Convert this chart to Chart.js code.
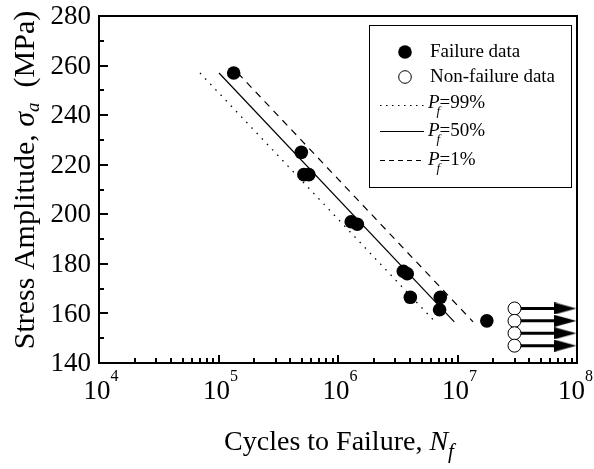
<!DOCTYPE html>
<html>
<head>
<meta charset="utf-8">
<script src="https://cdn.jsdelivr.net/npm/chart.js@4.4.1/dist/chart.umd.min.js"></script>
<style>
  html, body { margin: 0; padding: 0; background: #fff; }
  #c { display: block; }
</style>
</head>
<body>
<canvas id="c" width="594" height="469"></canvas>
<script>
// ---- data ----
const failN = [1.34e5, 4.93e5, 5.18e5, 5.7e5, 1.29e6, 1.45e6, 3.52e6, 3.8e6, 4.03e6, 7.18e6, 7.08e6, 1.76e7];
const failS = [257, 225, 216, 216, 197, 196, 177, 176, 166.5, 166.5, 161.5, 157];
const runoutN = [3e7, 3e7, 3e7, 3e7];
const runoutS = [162, 157, 152, 147];
const runoutArrowN = 8e7;
const p99N = [7.0e4, 6.5e6];
const p50N = [1.01e5, 9.4e6];
const p1N = [1.45e5, 1.35e7];
const curveS = [257, 156.6];
const xTickExp = [4, 5, 6, 7, 8];
const yTicks = [140, 160, 180, 200, 220, 240, 260, 280];
const yMinor = [150, 170, 190, 210, 230, 250, 270];
const legendLabels = ['Failure data', 'Non-failure data', '=99%', '=50%', '=1%'];

const SERIF = '"Liberation Serif", "Times New Roman", serif';

// arrowhead glyph
const arrowHead = document.createElement('canvas');
arrowHead.width = 22; arrowHead.height = 12;
(function(){
  const g = arrowHead.getContext('2d');
  g.fillStyle = '#000';
  g.beginPath(); g.moveTo(0, 0); g.lineTo(22, 6); g.lineTo(0, 12); g.closePath(); g.fill();
})();

const pts = (xs, ys) => xs.map((x, i) => ({x: x, y: ys[i]}));

const datasets = [];
datasets.push({
  label: 'Failure data', data: pts(failN, failS), showLine: false,
  pointRadius: 6.8, pointBackgroundColor: '#000', pointBorderColor: '#000', pointBorderWidth: 0
});
datasets.push({
  label: 'Non-failure data', data: pts(runoutN, runoutS), showLine: false,
  pointRadius: 6.5, pointBackgroundColor: '#fff', pointBorderColor: '#000', pointBorderWidth: 1
});
runoutS.forEach((s, i) => {
  datasets.push({
    label: 'arrow' + i, data: [{x: runoutN[i], y: s}, {x: runoutArrowN, y: s}],
    showLine: true, borderColor: '#000', borderWidth: 3,
    pointRadius: [0, 6], pointStyle: arrowHead, pointBorderWidth: 0
  });
});
datasets.push({
  label: 'Pf=99%', data: pts(p99N, curveS), showLine: true, borderColor: '#000',
  borderWidth: 1.3, borderDash: [1.5, 6], pointRadius: 0
});
datasets.push({
  label: 'Pf=50%', data: pts(p50N, curveS), showLine: true, borderColor: '#000',
  borderWidth: 1.2, pointRadius: 0
});
datasets.push({
  label: 'Pf=1%', data: pts(p1N, curveS), showLine: true, borderColor: '#000',
  borderWidth: 1.2, borderDash: [7, 6], pointRadius: 0
});

const decor = {
  id: 'decor',
  beforeDraw(chart) {
    const ctx = chart.ctx;
    ctx.save();
    ctx.fillStyle = '#fff';
    ctx.fillRect(0, 0, chart.width, chart.height);
    ctx.restore();
  },
  afterDraw(chart) {
    const ctx = chart.ctx;
    const a = chart.chartArea;
    const xs = chart.scales.x, ys = chart.scales.y;
    ctx.save();
    ctx.strokeStyle = '#000';
    ctx.fillStyle = '#000';
    // frame
    ctx.lineWidth = 2;
    ctx.strokeRect(a.left, a.top, a.right - a.left, a.bottom - a.top);
    // y ticks
    ctx.lineWidth = 2;
    ctx.beginPath();
    yTicks.forEach(v => { const y = Math.round(ys.getPixelForValue(v)); ctx.moveTo(a.left, y); ctx.lineTo(a.left + 9, y); });
    yMinor.forEach(v => { const y = Math.round(ys.getPixelForValue(v)); ctx.moveTo(a.left, y); ctx.lineTo(a.left + 5, y); });
    // x ticks
    xTickExp.forEach((e, k) => {
      const x = Math.round(xs.getPixelForValue(Math.pow(10, e)));
      ctx.moveTo(x, a.bottom); ctx.lineTo(x, a.bottom - 8);
      if (k < xTickExp.length - 1) {
        for (let m = 2; m <= 9; m++) {
          const xm = Math.round(xs.getPixelForValue(m * Math.pow(10, e)));
          ctx.moveTo(xm, a.bottom); ctx.lineTo(xm, a.bottom - 5);
        }
      }
    });
    ctx.stroke();

    // y tick labels
    ctx.font = '27px ' + SERIF;
    ctx.textAlign = 'right';
    ctx.textBaseline = 'middle';
    yTicks.forEach(v => { ctx.fillText(String(v), a.left - 8, ys.getPixelForValue(v) + 1); });

    // x tick labels 10^n
    ctx.textBaseline = 'alphabetic';
    xTickExp.forEach(e => {
      const x = xs.getPixelForValue(Math.pow(10, e));
      ctx.font = '27px ' + SERIF;
      const w = ctx.measureText('10').width;
      ctx.font = '16px ' + SERIF;
      const we = ctx.measureText(String(e)).width;
      let cx = x - 2;
      const maxRight = chart.width - 1;
      if (cx + w / 2 + we > maxRight) cx = maxRight - we - w / 2;
      ctx.font = '27px ' + SERIF;
      ctx.textAlign = 'center';
      ctx.fillText('10', cx, 399);
      ctx.font = '16px ' + SERIF;
      ctx.textAlign = 'left';
      ctx.fillText(String(e), cx + w / 2, 381);
    });

    // x title
    {
      const p1 = 'Cycles to Failure, ';
      ctx.font = '28px ' + SERIF; const w1 = ctx.measureText(p1).width;
      ctx.font = 'italic 28px ' + SERIF; const w2 = ctx.measureText('N').width;
      ctx.font = 'italic 21px ' + SERIF; const w3 = ctx.measureText('f').width;
      const total = w1 + w2 + w3;
      let x = 339 - total / 2;
      const by = 450;
      ctx.textAlign = 'left';
      ctx.font = '28px ' + SERIF; ctx.fillText(p1, x, by); x += w1;
      ctx.font = 'italic 28px ' + SERIF; ctx.fillText('N', x, by); x += w2;
      ctx.font = 'italic 21px ' + SERIF; ctx.fillText('f', x, by + 8);
    }
    // y title (rotated)
    {
      ctx.save();
      ctx.translate(34, 180);
      ctx.rotate(-Math.PI / 2);
      const p1 = 'Stress Amplitude, ';
      const p4 = '  (MPa)';
      ctx.font = '30px ' + SERIF; const w1 = ctx.measureText(p1).width; const w4 = ctx.measureText(p4).width;
      ctx.font = 'italic 30px ' + SERIF; const w2 = ctx.measureText('\u03C3').width;
      ctx.font = 'italic 19px ' + SERIF; const w3 = ctx.measureText('a').width;
      const total = w1 + w2 + w3 + w4;
      let x = -total / 2;
      ctx.textAlign = 'left';
      ctx.textBaseline = 'alphabetic';
      ctx.font = '30px ' + SERIF; ctx.fillText(p1, x, 0); x += w1;
      ctx.font = 'italic 30px ' + SERIF; ctx.fillText('\u03C3', x, 0); x += w2;
      ctx.font = 'italic 19px ' + SERIF; ctx.fillText('a', x, 5); x += w3;
      ctx.font = '30px ' + SERIF; ctx.fillText(p4, x, 0);
      ctx.restore();
    }

    // legend
    {
      ctx.lineWidth = 1;
      ctx.strokeRect(369.5, 25.5, 202, 162);
      const rows = [52, 77, 103, 131, 160];
      // markers
      ctx.beginPath(); ctx.arc(405, rows[0], 6.8, 0, 2 * Math.PI); ctx.fill();
      ctx.beginPath(); ctx.arc(405, rows[1], 6.3, 0, 2 * Math.PI);
      ctx.fillStyle = '#fff'; ctx.fill(); ctx.fillStyle = '#000'; ctx.stroke();
      ctx.font = '19px ' + SERIF;
      ctx.textAlign = 'left'; ctx.textBaseline = 'middle';
      ctx.fillText(legendLabels[0], 430, rows[0]);
      ctx.fillText(legendLabels[1], 430, rows[1]);
      // line samples
      const dashes = [[1.5, 4.5], [], [5, 4]];
      for (let k = 0; k < 3; k++) {
        const y = rows[2 + k] + (k === 0 ? 2 : 0);
        ctx.setLineDash(dashes[k]);
        ctx.lineWidth = 1.2;
        ctx.beginPath(); ctx.moveTo(380, y + 0.5); ctx.lineTo(424, y + 0.5); ctx.stroke();
        ctx.setLineDash([]);
        const ty = rows[2 + k];
        ctx.font = 'italic 19px ' + SERIF;
        ctx.fillText('P', 428, ty);
        const wp = ctx.measureText('P').width;
        ctx.font = 'italic 13px ' + SERIF;
        ctx.fillText('f', 428 + wp - 3, ty + 9);
        ctx.font = '19px ' + SERIF;
        ctx.fillText(legendLabels[2 + k], 428 + wp, ty);
      }
    }
    ctx.restore();
  }
};

new Chart(document.getElementById('c'), {
  type: 'scatter',
  data: { datasets: datasets },
  options: {
    responsive: false,
    animation: false,
    devicePixelRatio: 1,
    layout: { padding: { left: 99, top: 16, right: 17, bottom: 106 } },
    plugins: { legend: { display: false }, tooltip: { enabled: false } },
    elements: { line: { tension: 0 } },
    scales: {
      x: { type: 'logarithmic', min: 1e4, max: 1e8, display: false },
      y: { type: 'linear', min: 140, max: 280, display: false }
    }
  },
  plugins: [decor]
});
</script>
</body>
</html>
